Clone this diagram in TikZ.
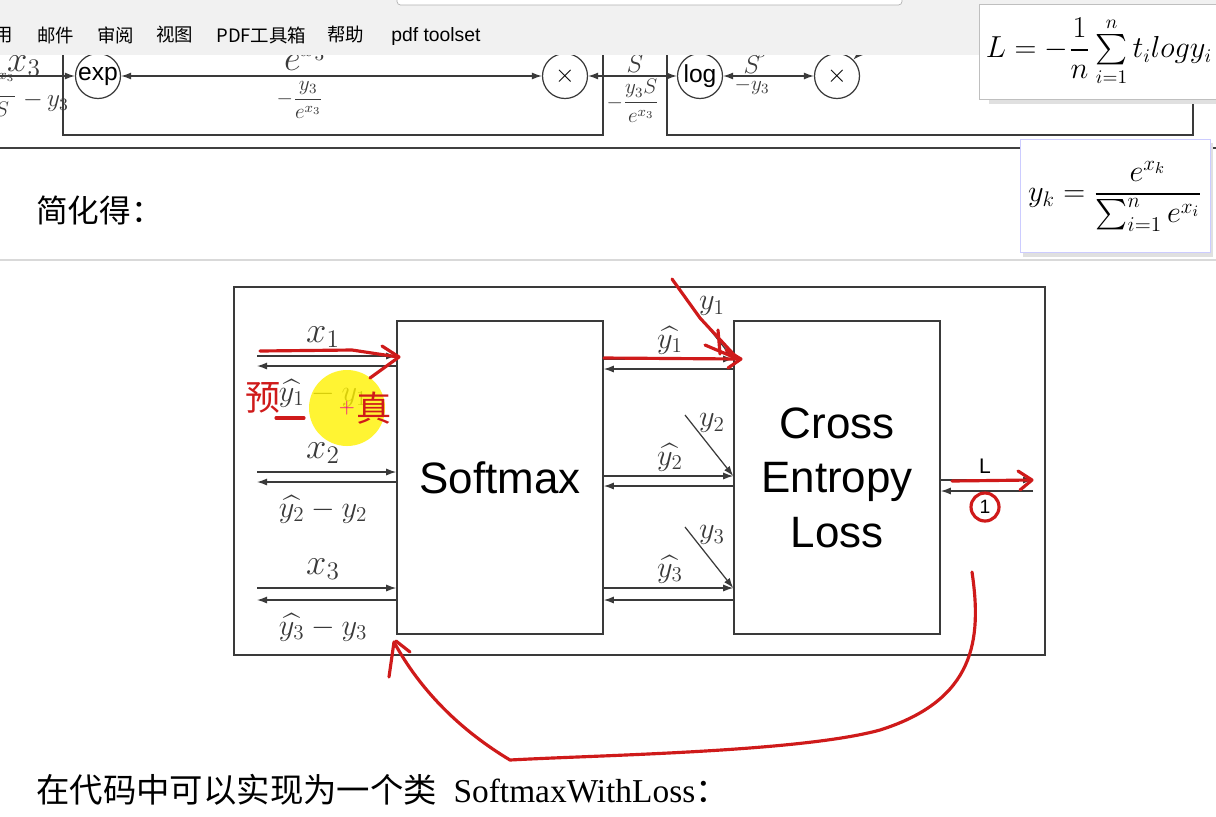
\documentclass[tikz,border=0pt]{standalone}
\usepackage{amsmath}
\usepackage{fontspec}
\setsansfont{Liberation Sans}
\newfontfamily\cjk{Noto Sans CJK SC}
\newfontfamily\tms{Liberation Serif}
\usetikzlibrary{arrows.meta, positioning}
\definecolor{ink}{HTML}{3A3A3A}
\definecolor{pen}{HTML}{CF1A1A}
\definecolor{bar}{HTML}{F1F1F1}
\newcommand{\fsz}[1]{\fontsize{#1}{#1}\selectfont}

\begin{document}
\begin{tikzpicture}[
    x=0.02cm, y=-0.02cm,
    >={Latex[length=2mm,width=1.4mm]},
    blk/.style={draw=ink, line width=0.9pt, minimum width=4.12cm,
                minimum height=6.26cm, align=center,
                font=\fontsize{25}{31}\selectfont\sffamily},
    op/.style={circle, draw=ink, line width=0.7pt, minimum size=0.9cm,
               inner sep=0pt, fill=white, font=\fsz{14}\sffamily},
    lab/.style={inner sep=1pt, font=\fsz{18}, text=ink},
    big/.style={inner sep=1pt, font=\fsz{21}, text=ink},
    sml/.style={inner sep=1pt, font=\fsz{12}, text=ink},
    sig/.style={->, draw=ink, line width=0.7pt},
    both/.style={<->, draw=ink, line width=0.7pt},
    eqbox/.style={draw=black!25, fill=white, inner sep=4pt, font=\fsz{16}},
    redpen/.style={draw=pen, line width=1.8pt, line cap=round, line join=round},
    menu/.style={anchor=west, inner sep=0pt, font=\cjk\fsz{10.5}},
  ]
  \useasboundingbox (0,0) rectangle (1216,816);
  \fill[white] (0,0) rectangle (1216,816);

  %% ---- previous graph, cut by the toolbar -----------------------------
  \node[op] (ex) at (98,76)  {exp};
  \node[op] (m1) at (565,76) {$\times$};
  \node[op] (lg) at (700,76) {log};
  \node[op] (m2) at (837,76) {$\times$};
  \coordinate (l0) at (0,76);
  \coordinate (up) at (885,28);
  \draw[sig]  (l0) -- (ex);
  \draw[both] (ex) -- (m1);
  \draw[both] (m1) -- (lg);
  \draw[both] (lg) -- (m2);
  \draw[sig]  (up) -- (m2);
  \draw[ink, line width=0.8pt] (63,40) -- (63,135) -- (603,135) -- (603,40);
  \draw[ink, line width=0.8pt] (667,40) -- (667,135) -- (1193,135) -- (1193,40);
  \node[big] at (24,66) {$x_3$};
  \node[sml] at (2,95) {$\dfrac{e^{x_3}}{S}$};
  \node[sml, font=\fsz{14}] at (46,102) {$-\,y_3$};
  \node[big] at (305,58) {$e^{x_3}$};
  \node[sml] at (300,100) {$-\dfrac{y_3}{e^{x_3}}$};
  \node[sml, font=\fsz{14}] at (635,64) {$S$};
  \node[sml] at (633,101) {$-\dfrac{y_3S}{e^{x_3}}$};
  \node[sml] at (752,48) {$\log$};
  \node[sml, font=\fsz{14}] at (752,65) {$S$};
  \node[sml] at (752,86) {$-y_3$};

  %% ---- toolbar --------------------------------------------------------
  \fill[bar] (0,0) rectangle (1216,55);
  \draw[black!30, fill=white, rounded corners=2pt] (397,-10) rectangle (902,5);
  \node[menu] at (-6,35) {用};
  \node[menu] at (37,35) {邮件};
  \node[menu] at (97,35) {审阅};
  \node[menu] at (156,35) {视图};
  \node[menu] at (216,35) {PDF工具箱};
  \node[menu] at (327,35) {帮助};
  \node[menu, font=\sffamily\fsz{11}] at (391,36) {pdf toolset};

  %% ---- formula boxes --------------------------------------------------
  \fill[black!12] (989,9) rectangle (1217,104);
  \node[eqbox, minimum width=4.56cm, minimum height=1.9cm] (fl) at (1099,52)
    {$L=-\dfrac{1}{n}\sum\limits_{i=1}^{n}t_i log y_i$};
  \draw[black!75, line width=1.1pt] (0,148) -- (1216,148);
  \draw[black!15, line width=1.2pt] (0,260) -- (1216,260);
  \fill[black!12] (1023,143) rectangle (1213,257);
  \node[eqbox, draw=blue!20, font=\fsz{18}, minimum width=3.8cm, minimum height=2.26cm] (fy) at (1115,196)
    {$y_k=\dfrac{e^{x_k}}{\sum_{i=1}^{n}e^{x_i}}$};
  \node[anchor=west, inner sep=0pt, font=\cjk\fsz{18}] (simp) at (36,210) {简化得：};

  %% ---- softmax with loss ----------------------------------------------
  \draw[ink, line width=0.8pt] (234,287) rectangle (1045,655);
  \node[blk] (sm) at (500,477.5) {Softmax};
  \node[blk] (ce) at (837,477.5) {Cross\\Entropy\\Loss};

  \foreach \i/\yf/\yb/\mf/\mb in {1/356/366/359/369, 2/472/482/476/486, 3/588/600/588/600}{
    \coordinate (xa\i) at (257,\yf);
    \coordinate (xb\i) at (257,\yb);
    \draw[sig] (xa\i) -- (sm.west |- xa\i);
    \draw[sig] (sm.west |- xb\i) -- (xb\i);
    \node[big] at (323,{\yf-19}) {$x_{\i}$};
    \node[lab] at (323,{\yb+27}) {$\widehat{y_{\i}}-y_{\i}$};
    \coordinate (ya\i) at (670,\mf);
    \coordinate (yb\i) at (670,\mb);
    \draw[sig] (sm.east |- ya\i) -- (ce.west |- ya\i);
    \draw[sig] (ce.west |- yb\i) -- (sm.east |- yb\i);
    \node[lab] at (670,{\mf-19}) {$\widehat{y_{\i}}$};
    \coordinate (t\i) at (685,{\mf-61});
    \draw[sig] (t\i) -- (ce.west |- ya\i);
    \node[lab] at (712,{\mf-53}) {$y_{\i}$};
  }

  \coordinate (lo) at (1033,480);
  \coordinate (li) at (1033,491);
  \draw[sig] (ce.east |- lo) -- (lo);
  \draw[sig] (li) -- (ce.east |- li);
  \node[inner sep=1pt, font=\sffamily\fsz{12}] (lL) at (985,466) {L};
  \node[inner sep=1pt, font=\sffamily\fsz{11}] (l1) at (985,507) {1};

  %% ---- pen marks --------------------------------------------------------
  \fill[yellow, opacity=0.8] (347,408) circle (38);
  \node[text=magenta, inner sep=0pt, font=\fsz{12}] at (347,408) {+};
  \draw[redpen] (260,351) -- (352,350) -- (398,357);
  \draw[redpen] (382,346) -- (399,357) -- (370,378);
  \draw[redpen] (276,418) -- (304,418);
  \node[text=pen, font=\cjk\fsz{20}] at (263,398) {预};
  \node[text=pen, font=\cjk\fsz{20}] at (374,408) {真};
  \draw[redpen] (672,279) -- (700,318) -- (738,359);
  \draw[redpen] (718,330) -- (720,354);
  \draw[redpen] (705,345) -- (738,359);
  \draw[redpen] (604,358) -- (740,359);
  \draw[redpen] (726,350) -- (741,359) -- (728,368);
  \draw[redpen] (952,481) -- (1031,480);
  \draw[redpen] (1018,471) -- (1032,480) -- (1020,490);
  \draw[redpen] (l1) circle (14);
  \draw[redpen] (972,572) .. controls (982,640) and (975,700) .. (880,730)
                .. controls (800,752) and (600,755) .. (510,760)
                .. controls (460,730) and (420,690) .. (394,642);
  \draw[redpen] (394,642) -- (389,677);
  \draw[redpen] (396,641) -- (410,652);

  %% ---- closing line -----------------------------------------------------
  \node[anchor=west, inner sep=0pt, font=\cjk\fsz{19}] (code) at (36,790)
    {在代码中可以实现为一个类\hspace{0.5em}{\tms SoftmaxWithLoss}：};
\end{tikzpicture}
\end{document}
